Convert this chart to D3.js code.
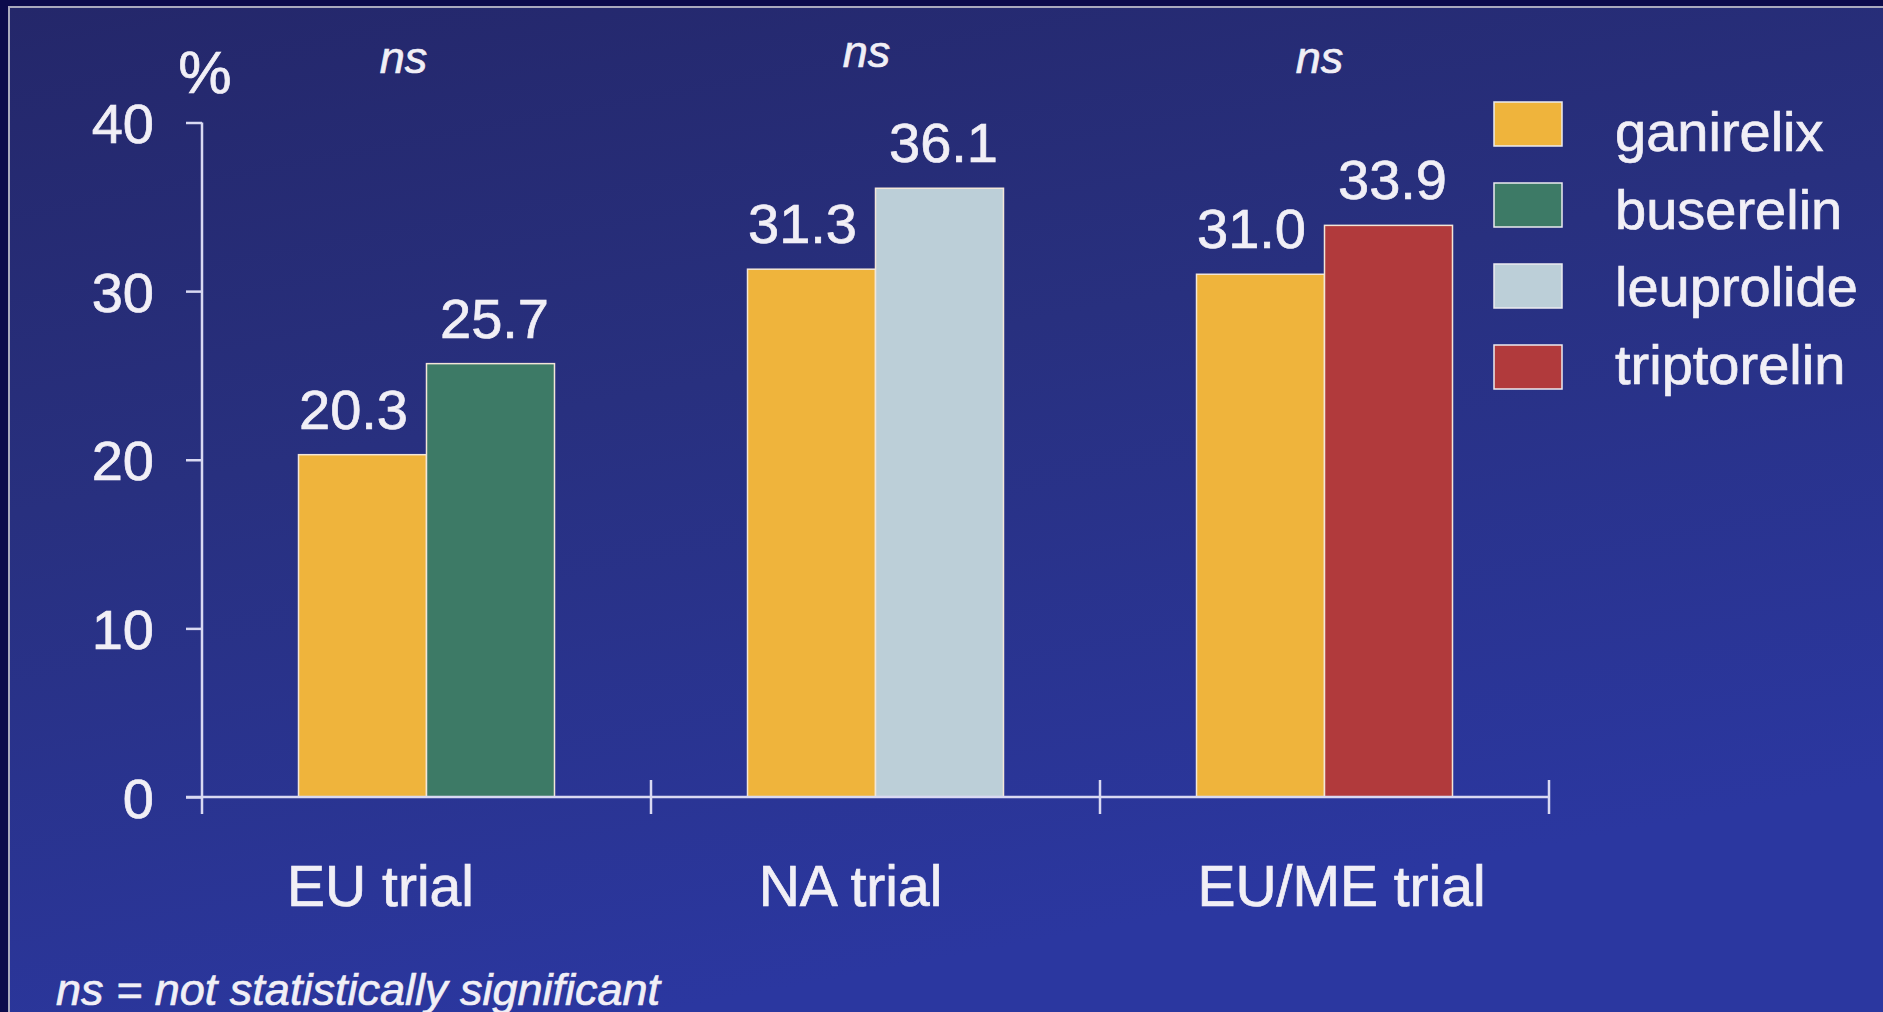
<!DOCTYPE html>
<html>
<head>
<meta charset="utf-8">
<script src="https://cdn.jsdelivr.net/npm/d3@7"></script>
<style>
  html, body { margin: 0; padding: 0; background: #0c0b4c; }
  svg { display: block; }
  text {
    font-family: "Liberation Sans", Arial, Helvetica, sans-serif;
    fill: #f1eff6;
    stroke: #f1eff6; stroke-width: 0.7px; paint-order: stroke;
  }
</style>
</head>
<body>
<svg id="chart" width="1883" height="1012"></svg>
<script>
// Trials and the two arms compared in each one
const trials = ["EU trial", "NA trial", "EU/ME trial"];
const ganirelixValues = [20.3, 31.3, 31.0];
const comparatorValues = [25.7, 36.1, 33.9];
const comparatorNames = ["buserelin", "leuprolide", "triptorelin"];
const significance = ["ns", "ns", "ns"];

// Legend entries
const drugs = ["ganirelix", "buserelin", "leuprolide", "triptorelin"];
const drugColors = ["#efb43c", "#3d7a66", "#bccfd8", "#b13a3c"];

const yTicks = [0, 10, 20, 30, 40];
const footnote = "ns = not statistically significant";

// Hand placement of the per-trial captions (px, relative to the trial's centre)
const captionNudge = [-46, -25, 17];
const sigNudge = [-23, -9, -5];
const sigLift = [0, 6, 0];
const valueNudge = [-9, 4];   // ganirelix label, comparator label

const W = 1883, H = 1012;
const svg = d3.select("#chart");

// Background: framed slide with a navy gradient
const defs = svg.append("defs");
const grad = defs.append("linearGradient")
  .attr("id", "bg").attr("x1", "0").attr("y1", "0").attr("x2", "0.35").attr("y2", "1");
grad.append("stop").attr("offset", "0").attr("stop-color", "#24276a");
grad.append("stop").attr("offset", "0.45").attr("stop-color", "#28307f");
grad.append("stop").attr("offset", "1").attr("stop-color", "#2b37a0");

svg.append("rect").attr("width", W).attr("height", H).attr("fill", "#0c0b4c");
svg.append("rect").attr("x", 9).attr("y", 6).attr("width", W - 9).attr("height", H - 6)
  .attr("fill", "url(#bg)");
svg.append("path").attr("d", `M9,${H} V7 H${W}`)
  .attr("fill", "none").attr("stroke", "#a9a9bd").attr("stroke-width", 2);

const axisColor = "#d9d9f2";
const x0 = 202, x1 = 1549, y0 = 797, yTop = 122.5;

const x = d3.scaleBand().domain(trials).range([x0, x1]).padding(0);
const inner = d3.scaleBand().domain([0, 1]).range([0, x.bandwidth()])
  .paddingInner(0).paddingOuter(0.754);
const y = d3.scaleLinear().domain([0, 40]).range([y0, yTop]);

const g = svg.append("g");

// Y axis
const yAxis = g.append("g").attr("transform", `translate(${x0},0)`)
  .call(d3.axisLeft(y).tickValues(yTicks).tickSize(16).tickPadding(32).tickSizeOuter(0));
yAxis.select(".domain").remove();
yAxis.selectAll(".tick line").attr("stroke", axisColor).attr("stroke-width", 2.5);
yAxis.selectAll(".tick text")
  .style("font-size", "56px").attr("fill", "#f1eff6").attr("dy", "0.36em");
g.append("line").attr("x1", x0).attr("x2", x0).attr("y1", y(40)).attr("y2", y0 + 17)
  .attr("stroke", axisColor).attr("stroke-width", 2.5);

g.append("text").attr("x", 205).attr("y", 93).attr("text-anchor", "middle")
  .style("font-size", "60px").text("%");

// Bars: ganirelix then the comparator for each trial
const barData = [];
trials.forEach((t, i) => {
  barData.push({ trial: t, k: 0, value: ganirelixValues[i], color: drugColors[0] });
  const ci = drugs.indexOf(comparatorNames[i]);
  barData.push({ trial: t, k: 1, value: comparatorValues[i], color: drugColors[ci] });
});

g.selectAll("rect.bar").data(barData).join("rect")
  .attr("class", "bar")
  .attr("x", d => x(d.trial) + inner(d.k))
  .attr("width", inner.bandwidth())
  .attr("y", d => y(d.value))
  .attr("height", d => y0 - y(d.value))
  .attr("fill", d => d.color)
  .attr("stroke", "#f3e6d8").attr("stroke-width", 1.5);

g.selectAll("text.val").data(barData).join("text")
  .attr("class", "val")
  .attr("x", d => x(d.trial) + inner(d.k) + inner.bandwidth() / 2 + valueNudge[d.k])
  .attr("y", d => y(d.value) - 26)
  .attr("text-anchor", "middle")
  .style("font-size", "56px")
  .text(d => d.value.toFixed(1));

// X axis baseline with ticks at the trial boundaries
g.append("line").attr("x1", 186).attr("x2", x1).attr("y1", y0).attr("y2", y0)
  .attr("stroke", axisColor).attr("stroke-width", 2.5);
g.selectAll("line.sep").data(trials).join("line")
  .attr("class", "sep")
  .attr("x1", d => x(d) + x.bandwidth()).attr("x2", d => x(d) + x.bandwidth())
  .attr("y1", y0 - 17).attr("y2", y0 + 17)
  .attr("stroke", axisColor).attr("stroke-width", 2.5);

const xAxis = g.append("g").attr("transform", `translate(0,${y0})`)
  .call(d3.axisBottom(x).tickSize(0).tickPadding(69));
xAxis.select(".domain").remove();
xAxis.selectAll(".tick text")
  .style("font-size", "57px").attr("fill", "#f1eff6")
  .attr("x", (d, i) => captionNudge[i]);

// Significance markers above each trial
g.selectAll("text.sig").data(trials).join("text")
  .attr("class", "sig")
  .attr("x", (d, i) => x(d) + x.bandwidth() / 2 + sigNudge[i])
  .attr("y", (d, i) => 73 - sigLift[i])
  .attr("text-anchor", "middle")
  .style("font-size", "45px").style("font-style", "italic")
  .text((d, i) => significance[i]);

// Legend
const legend = g.append("g");
const rows = legend.selectAll("g").data(drugs).join("g");
rows.append("rect")
  .attr("x", 1494).attr("y", (d, i) => 102 + i * 81)
  .attr("width", 68).attr("height", 44)
  .attr("fill", (d, i) => drugColors[i])
  .attr("stroke", "#ecebf0").attr("stroke-width", 1.5);
rows.append("text")
  .attr("x", 1615).attr("y", (d, i) => 151 + i * 77.5)
  .style("font-size", "56px")
  .text(d => d);

// Footnote
g.append("text").attr("x", 56).attr("y", 1005)
  .style("font-size", "45px").style("font-style", "italic")
  .text(footnote);
</script>
</body>
</html>
